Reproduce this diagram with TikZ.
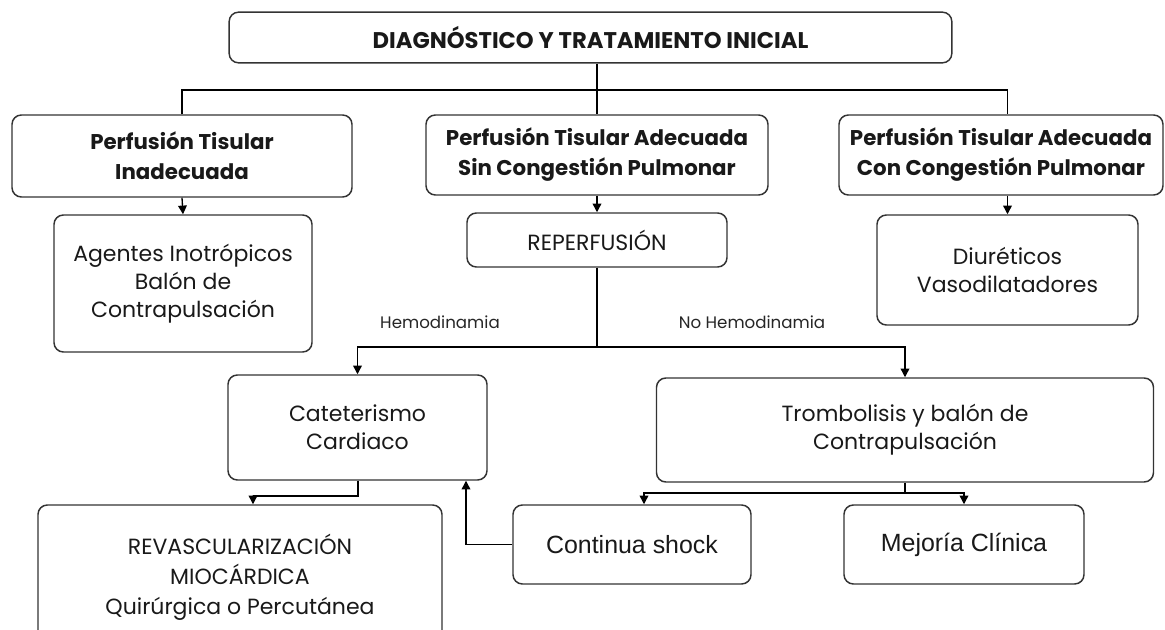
\documentclass[tikz,border=0pt]{standalone}
\usepackage{fontspec}
\setmainfont{Poppins}
\newfontfamily\arialf{Liberation Sans}
\usetikzlibrary{arrows.meta}
\begin{document}
\begin{tikzpicture}[x=0.75pt,y=-0.75pt,
  box/.style={draw=black!80, line width=1.1pt, rounded corners=7pt, align=center, inner sep=0pt, text=black!90},
  hdr/.style={box, font=\fontsize{16}{22.5}\selectfont\bfseries},
  txt/.style={box, font=\fontsize{16.5}{21}\selectfont},
  atxt/.style={box, font=\arialf\fontsize{18.7}{22}\selectfont},
  lbl/.style={font=\fontsize{12.5}{14}\selectfont, text=black!85},
  ln/.style={line width=1pt},
  arr/.style={ln, -{Triangle[length=6.5pt,width=6.5pt]}}]
\clip (0,0) rectangle (1165,630);
\fill[white] (0,0) rectangle (1165,630);
% nodes
\node[hdr, font=\fontsize{17}{20}\selectfont\bfseries, minimum width=542pt, minimum height=38pt] (title) at (590.5,37.5) {DIAGNÓSTICO Y TRATAMIENTO INICIAL};
\node[hdr, minimum width=255pt, minimum height=61.5pt] (pti) at (182,156) {Perfusión Tisular\\Inadecuada};
\node[hdr, minimum width=256.5pt, minimum height=60pt] (ptm) at (597,155) {Perfusión Tisular Adecuada\\Sin Congestión Pulmonar};
\node[hdr, minimum width=243pt, minimum height=60pt] (ptr) at (1001,155) {Perfusión Tisular Adecuada\\Con Congestión Pulmonar};
\node[txt, minimum width=193.5pt, minimum height=102.75pt] (agentes) at (183,283.5) {Agentes Inotrópicos\\Balón de\\Contrapulsación};
\node[txt, minimum width=195pt, minimum height=40.5pt] (reperf) at (597,240) {REPERFUSIÓN};
\node[txt, minimum width=195.75pt, minimum height=82.5pt] (diur) at (1007.5,270) {Diuréticos\\Vasodilatadores};
\node[txt, minimum width=194.25pt, minimum height=78.75pt] (cat) at (357.5,427.5) {Cateterismo\\Cardiaco};
\node[txt, minimum width=372.75pt, minimum height=78pt] (trom) at (905,430) {Trombolisis y balón de\\Contrapulsación};
\node[txt, font=\fontsize{16.5}{22.5}\selectfont, minimum width=303pt, minimum height=108.75pt] (revasc) at (240,577.5) {REVASCULARIZACIÓN\\MIOCÁRDICA\\Quirúrgica o Percutánea};
\node[atxt, minimum width=178.5pt, minimum height=59.25pt] (cont) at (632,544.5) {Continua shock};
\node[atxt, minimum width=180pt, minimum height=59.25pt] (mej) at (964,544.5) {Mejoría Clínica};
\node[lbl] (hemo) at (440,322) {Hemodinamia};
\node[lbl] (nohemo) at (752,322) {No Hemodinamia};
% connectors
\coordinate (bus) at (597,90);
\coordinate (split) at (597,347);
\coordinate (tsplit) at (905,493);
\coordinate (cbend) at (358,496);
\coordinate (rvx) at (253,0);
\coordinate (upx) at (466,0);
\coordinate (cnx) at (644,0);
\draw[ln] (title.south -| bus) -- (ptm.north);
\draw[ln] (pti.north) -- (pti.north |- bus) -- (bus -| diur.north) -- (diur.north |- ptr.north);
\draw[arr] (pti.south) -- (agentes.north);
\draw[arr] (ptm.south) -- (reperf.north);
\draw[arr] (diur.north |- ptr.south) -- (diur.north);
\draw[ln] (reperf.south) -- (split);
\draw[arr] (split) -| (cat.north);
\draw[arr] (split) -| (trom.north);
\draw[arr] (cat.south -| cbend) -- (cbend) -| (revasc.north -| rvx);
\draw[arr] (cont.west) -| (cat.south -| upx);
\draw[ln] (trom.south) -- (tsplit);
\draw[arr] (tsplit) -| (cont.north -| cnx);
\draw[arr] (tsplit) -| (mej.north);
\end{tikzpicture}
\end{document}
